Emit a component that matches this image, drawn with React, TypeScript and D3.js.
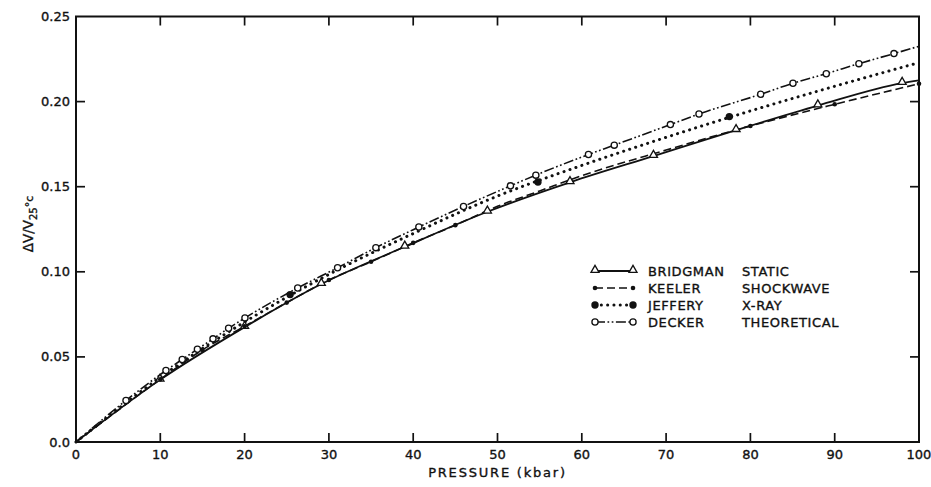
import { useEffect, useRef } from "react";
import * as d3 from "d3";

// values
const pressureTicks = [0, 10, 20, 30, 40, 50, 60, 70, 80, 90, 100];
const volumeTicks = [0, 0.05, 0.1, 0.15, 0.2, 0.25];
const volumeTickLabels = ["0.0", "0.05", "0.10", "0.15", "0.20", "0.25"];

const bridgmanP = [0, 9.96, 20.0, 29.1, 39.0, 48.8, 58.6, 68.5, 78.3, 88.0, 98.0, 100];
const bridgmanV = [0, 0.0365, 0.0675, 0.0928, 0.1147, 0.1353, 0.1526, 0.168, 0.1832, 0.1977, 0.2109, 0.2125];
const bridgmanMarkP = [9.96, 20.0, 29.1, 39.0, 48.8, 58.6, 68.5, 78.3, 88.0, 98.0];
const bridgmanMarkV = [0.0365, 0.0675, 0.0928, 0.1147, 0.1353, 0.1526, 0.168, 0.1832, 0.1977, 0.2109];

const keelerP = [0, 10, 15, 20, 25, 30, 35, 40, 45, 50, 55, 60, 70, 80, 90, 100];
const keelerV = [0, 0.0368, 0.0541, 0.068, 0.0819, 0.0952, 0.1059, 0.117, 0.1274, 0.1385, 0.1475, 0.1565, 0.1715, 0.1857, 0.1984, 0.2105];
const keelerMarkP = [10, 15, 20, 25, 30, 35, 40, 45, 80, 90, 100];
const keelerMarkV = [0.0368, 0.0541, 0.068, 0.0819, 0.0952, 0.1059, 0.117, 0.1274, 0.1857, 0.1984, 0.2105];

const jefferyP = [0, 10, 20, 30, 40, 50, 60, 70, 80, 90, 100];
const jefferyV = [0, 0.038, 0.0705, 0.0985, 0.1225, 0.1445, 0.1625, 0.179, 0.1945, 0.209, 0.2229];
const jefferyMarkP = [25.4, 54.8, 77.5];
const jefferyMarkV = [0.0866, 0.1528, 0.1912];

const deckerP = [0, 5.93, 10.67, 12.6, 14.4, 16.25, 18.1, 20.04, 26.3, 31.03, 35.57, 40.67, 45.97, 51.54, 54.55, 60.79, 63.85, 70.51, 73.9, 81.22, 85.05, 89.0, 92.87, 97.03, 100];
const deckerV = [0, 0.0244, 0.042, 0.0485, 0.0545, 0.0606, 0.0668, 0.0729, 0.0905, 0.1024, 0.1142, 0.1263, 0.1384, 0.1505, 0.1568, 0.1689, 0.1744, 0.1865, 0.1927, 0.2043, 0.2108, 0.2164, 0.2223, 0.2282, 0.2325];

const legendNames = ["BRIDGMAN", "KEELER", "JEFFERY", "DECKER"];
const legendKinds = ["STATIC", "SHOCKWAVE", "X-RAY", "THEORETICAL"];

const FONT = "'DejaVu Sans', sans-serif";
const INK = "#111";

export default function App() {
  const svgRef = useRef(null);

  useEffect(() => {
    draw();
  }, []);

  function draw() {
    const svg = d3.select(svgRef.current);
    svg.selectAll("*").remove();

    const width = 931;
    const height = 487;
    svg.attr("width", width).attr("height", height);
    svg.append("rect").attr("width", width).attr("height", height).attr("fill", "white");

    const x = d3.scaleLinear().domain([0, 100]).range([76, 919]);
    const y = d3.scaleLinear().domain([0, 0.25]).range([442, 16.5]);
    const [x0, x1] = x.range();
    const [y0, y1] = y.range();
    const tick = 9;

    // scanned lettering looks a bit heavy, so text gets a thin outline
    const ink = (sel) =>
      sel.style("font-family", FONT)
        .style("fill", INK)
        .style("stroke", INK)
        .style("stroke-width", "0.35px");

    // frame
    svg.append("rect")
      .attr("x", x0).attr("y", y1)
      .attr("width", x1 - x0).attr("height", y0 - y1)
      .attr("fill", "none").attr("stroke", INK).attr("stroke-width", 2);

    // inward ticks on all four sides
    const g = svg.append("g").attr("stroke", INK).attr("stroke-width", 1.7);
    pressureTicks.slice(1, -1).forEach((p) => {
      g.append("line").attr("x1", x(p)).attr("x2", x(p)).attr("y1", y0).attr("y2", y0 - tick);
      g.append("line").attr("x1", x(p)).attr("x2", x(p)).attr("y1", y1).attr("y2", y1 + tick);
    });
    volumeTicks.slice(1, -1).forEach((v) => {
      g.append("line").attr("x1", x0).attr("x2", x0 + tick).attr("y1", y(v)).attr("y2", y(v));
      g.append("line").attr("x1", x1).attr("x2", x1 - tick).attr("y1", y(v)).attr("y2", y(v));
    });

    // tick labels
    svg.append("g")
      .selectAll("text")
      .data(pressureTicks)
      .join("text")
      .attr("x", (d) => x(d))
      .attr("y", 459)
      .attr("text-anchor", "middle")
      .call(ink)
      .style("font-size", "13px")
      .text((d) => d);

    svg.append("g")
      .selectAll("text")
      .data(volumeTicks)
      .join("text")
      .attr("x", 70)
      .attr("y", (d) => y(d))
      .attr("dy", "0.35em")
      .attr("text-anchor", "end")
      .call(ink)
      .style("font-size", "13px")
      .text((d, i) => volumeTickLabels[i]);

    // axis titles
    svg.append("text")
      .attr("x", (x0 + x1) / 2)
      .attr("y", 477)
      .attr("text-anchor", "middle")
      .call(ink)
      .style("font-size", "13px")
      .style("letter-spacing", "1.8px")
      .text("PRESSURE (kbar)");

    const yt = svg.append("text")
      .attr("transform", "translate(33,224) rotate(-90)")
      .attr("text-anchor", "middle")
      .call(ink)
      .style("font-size", "13.5px");
    yt.append("tspan").text("ΔV/V");
    yt.append("tspan").attr("dy", 4).style("font-size", "10px").text("25");
    yt.append("tspan").attr("dy", -4).style("font-size", "11px").text("°c");

    const line = d3.line().curve(d3.curveMonotoneX);
    const pts = (ps, vs) => ps.map((p, i) => [x(p), y(vs[i])]);

    const series = [
      { p: bridgmanP, v: bridgmanV, dash: null, w: 1.8, cap: "butt" },
      { p: keelerP, v: keelerV, dash: "8 4", w: 1.6, cap: "butt" },
      { p: jefferyP, v: jefferyV, dash: "0.1 6.2", w: 3, cap: "round" },
      { p: deckerP, v: deckerV, dash: "10 2.5 1.7 2.5 1.7 2.5", w: 1.6, cap: "butt" },
    ];

    const curves = svg.append("g").attr("fill", "none").attr("stroke", INK);
    series.forEach((s) => {
      curves.append("path")
        .attr("d", line(pts(s.p, s.v)))
        .attr("stroke-width", s.w)
        .attr("stroke-linecap", s.cap)
        .attr("stroke-dasharray", s.dash);
    });

    const triangle = d3.symbol().type(d3.symbolTriangle).size(28);

    function markers(group, kind, cx, cy) {
      if (kind === 0) {
        group.append("path")
          .attr("d", triangle())
          .attr("transform", `translate(${cx},${cy - 1})`)
          .attr("fill", "white").attr("stroke", INK).attr("stroke-width", 1.3);
      } else if (kind === 1) {
        group.append("circle").attr("cx", cx).attr("cy", cy).attr("r", 2.3).attr("fill", INK);
      } else if (kind === 2) {
        group.append("circle").attr("cx", cx).attr("cy", cy).attr("r", 3.7).attr("fill", INK);
      } else {
        group.append("circle").attr("cx", cx).attr("cy", cy).attr("r", 3.1)
          .attr("fill", "white").attr("stroke", INK).attr("stroke-width", 1.3);
      }
    }

    const mg = svg.append("g");
    bridgmanMarkP.forEach((p, i) => markers(mg, 0, x(p), y(bridgmanMarkV[i])));
    keelerMarkP.forEach((p, i) => markers(mg, 1, x(p), y(keelerMarkV[i])));
    jefferyMarkP.forEach((p, i) => markers(mg, 2, x(p), y(jefferyMarkV[i])));
    deckerP.slice(1, -1).forEach((p, i) => markers(mg, 3, x(p), y(deckerV[i + 1])));

    // legend
    const lg = svg.append("g");
    const rowY = d3.scaleLinear().domain([0, 3]).range([271, 322]);
    legendNames.forEach((name, i) => {
      const ry = rowY(i);
      const s = series[i];
      lg.append("line")
        .attr("x1", 595).attr("x2", 633).attr("y1", ry).attr("y2", ry)
        .attr("stroke", INK)
        .attr("stroke-width", s.w)
        .attr("stroke-linecap", s.cap)
        .attr("stroke-dasharray", s.dash);
      markers(lg, i, 595, ry);
      markers(lg, i, 633, ry);
      lg.append("text")
        .attr("x", 648).attr("y", ry).attr("dy", "0.36em")
        .call(ink)
        .style("font-size", "13px")
        .style("letter-spacing", "0.6px")
        .text(name);
      lg.append("text")
        .attr("x", 742).attr("y", ry).attr("dy", "0.36em")
        .call(ink)
        .style("font-size", "13px")
        .style("letter-spacing", "0.6px")
        .text(legendKinds[i]);
    });
  }

  return (
    <svg
      ref={svgRef}
      style={{ position: "absolute", left: 0, top: 0, display: "block" }}
    ></svg>
  );
}
